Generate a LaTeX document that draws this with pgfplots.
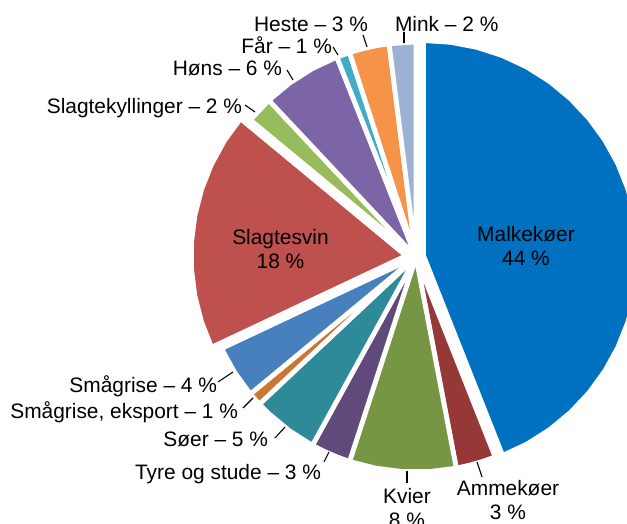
\documentclass[border=0pt]{standalone}
\usepackage{pgfplots}
\pgfplotsset{compat=1.18}
\usepackage{fontspec}
\setmainfont{Liberation Sans}
\definecolor{cMalk}{RGB}{0,112,192}
\definecolor{cAmme}{RGB}{150,55,56}
\definecolor{cKvier}{RGB}{119,150,68}
\definecolor{cTyre}{RGB}{96,74,123}
\definecolor{cSoer}{RGB}{46,137,153}
\definecolor{cEks}{RGB}{204,118,52}
\definecolor{cSmaa}{RGB}{72,128,190}
\definecolor{cSvin}{RGB}{190,80,78}
\definecolor{cKyl}{RGB}{150,188,92}
\definecolor{cHons}{RGB}{124,101,166}
\definecolor{cFaar}{RGB}{66,172,198}
\definecolor{cHeste}{RGB}{245,148,72}
\definecolor{cMink}{RGB}{156,178,210}
\tikzset{lbl/.style={inner sep=0pt, outer sep=0pt, font=\fontsize{10.45}{11.6}\selectfont, text=black},
  ldr/.style={black, line width=0.55pt}}
\begin{document}
\begin{tikzpicture}
\begin{axis}[scale only axis, width=313.5pt, height=262pt,
  xmin=-416, xmax=211, ymin=-267, ymax=257, hide axis,
  data cs=polar,
  every axis plot/.append style={mark=none, draw=white, line width=2.4pt, line join=round}]
% Malkekoer 44 %
\addplot[fill=cMalk, shift={(10.8:3.8pt)}] coordinates {(0,0) (90,215) (82.8,215) (75.6,215) (68.4,215) (61.2,215) (54,215) (46.8,215) (39.6,215) (32.4,215) (25.2,215) (18,215) (10.8,215) (3.6,215) (-3.6,215) (-10.8,215) (-18,215) (-25.2,215) (-32.4,215) (-39.6,215) (-46.8,215) (-54,215) (-61.2,215) (-68.4,215)} -- cycle;
% Ammekoer 3 %
\addplot[fill=cAmme] coordinates {(0,0) (-68.4,215) (-72,215) (-75.6,215) (-79.2,215)} -- cycle;
% Kvier 8 %
\addplot[fill=cKvier] coordinates {(0,0) (-79.2,215) (-86.4,215) (-93.6,215) (-100.8,215) (-108,215)} -- cycle;
% Tyre og stude 3 %
\addplot[fill=cTyre] coordinates {(0,0) (-108,215) (-111.6,215) (-115.2,215) (-118.8,215)} -- cycle;
% Soeer 5 %
\addplot[fill=cSoer] coordinates {(0,0) (-118.8,215) (-126,215) (-133.2,215) (-136.8,215)} -- cycle;
% Smaagrise, eksport 1 %
\addplot[fill=cEks] coordinates {(0,0) (-136.8,215) (-140.4,215)} -- cycle;
% Smaagrise 4 %
\addplot[fill=cSmaa] coordinates {(0,0) (-140.4,215) (-147.6,215) (-154.8,215)} -- cycle;
% Slagtesvin 18 %
\addplot[fill=cSvin, shift={(172.8:5pt)}] coordinates {(0,0) (-154.8,215) (-162,215) (-169.2,215) (-176.4,215) (-183.6,215) (-190.8,215) (-198,215) (-205.2,215) (-212.4,215) (-219.6,215)} -- cycle;
% Slagtekyllinger 2 %
\addplot[fill=cKyl] coordinates {(0,0) (-219.6,215) (-226.8,215)} -- cycle;
% Hoens 6 %
\addplot[fill=cHons] coordinates {(0,0) (-226.8,215) (-234,215) (-241.2,215) (-248.4,215)} -- cycle;
% Faar 1 %
\addplot[fill=cFaar] coordinates {(0,0) (-248.4,215) (-252,215)} -- cycle;
% Heste 3 %
\addplot[fill=cHeste] coordinates {(0,0) (-252,215) (-255.6,215) (-259.2,215) (-262.8,215)} -- cycle;
% Mink 2 %
\addplot[fill=cMink] coordinates {(0,0) (-262.8,215) (-270,215)} -- cycle;

% leader lines
\draw[ldr] (axis cs:-12,225) -- (axis cs:-12,214);
\draw[ldr] (axis cs:-53,222) -- (axis cs:-49,210);
\draw[ldr] (axis cs:-83,210) -- (axis cs:-78,202);
\draw[ldr] (axis cs:-129,187) -- (axis cs:-123,177);
\draw[ldr] (axis cs:-171,152) -- (axis cs:-161,145);
\draw[ldr] (axis cs:-198,-125) -- (axis cs:-183,-115);
\draw[ldr] (axis cs:-173,-151) -- (axis cs:-163,-141);
\draw[ldr] (axis cs:-141,-181) -- (axis cs:-131,-170);
\draw[ldr] (axis cs:-92,-205) -- (axis cs:-87,-195);
\draw[ldr] (axis cs:-9,-214) -- (axis cs:-9,-226);
\draw[ldr] (axis cs:61,-205) -- (axis cs:66,-220);

% labels
\node[lbl, align=center] at (axis cs:110,11) {Malkekøer\\44 \%};
\node[lbl, align=center] at (axis cs:-135.5,8) {Slagtesvin\\18 \%};
\node[lbl, align=center] at (axis cs:-9,-251) {Kvier\\8 \%};
\node[lbl, align=center] at (axis cs:92,-243) {Ammekøer\\3 \%};
\node[lbl, anchor=base east] at (axis cs:-95,-222.5) {Tyre og stude – 3 \%};
\node[lbl, anchor=base east] at (axis cs:-148,-189.5) {Søer – 5 \%};
\node[lbl, anchor=base east] at (axis cs:-178,-161.5) {Smågrise, eksport – 1 \%};
\node[lbl, anchor=base east] at (axis cs:-199,-135.5) {Smågrise – 4 \%};
\node[lbl, anchor=base east] at (axis cs:-174,143.5) {Slagtekyllinger – 2 \%};
\node[lbl, anchor=base east] at (axis cs:-134,181.5) {Høns – 6 \%};
\node[lbl, anchor=base east] at (axis cs:-84,203.5) {Får – 1 \%};
\node[lbl, anchor=base east] at (axis cs:-48,225.5) {Heste – 3 \%};
\node[lbl, anchor=base west] at (axis cs:-21,225) {Mink – 2 \%};
\end{axis}
\pgfresetboundingbox
\useasboundingbox (0,0) rectangle (313.5pt,262pt);
\end{tikzpicture}
\end{document}
